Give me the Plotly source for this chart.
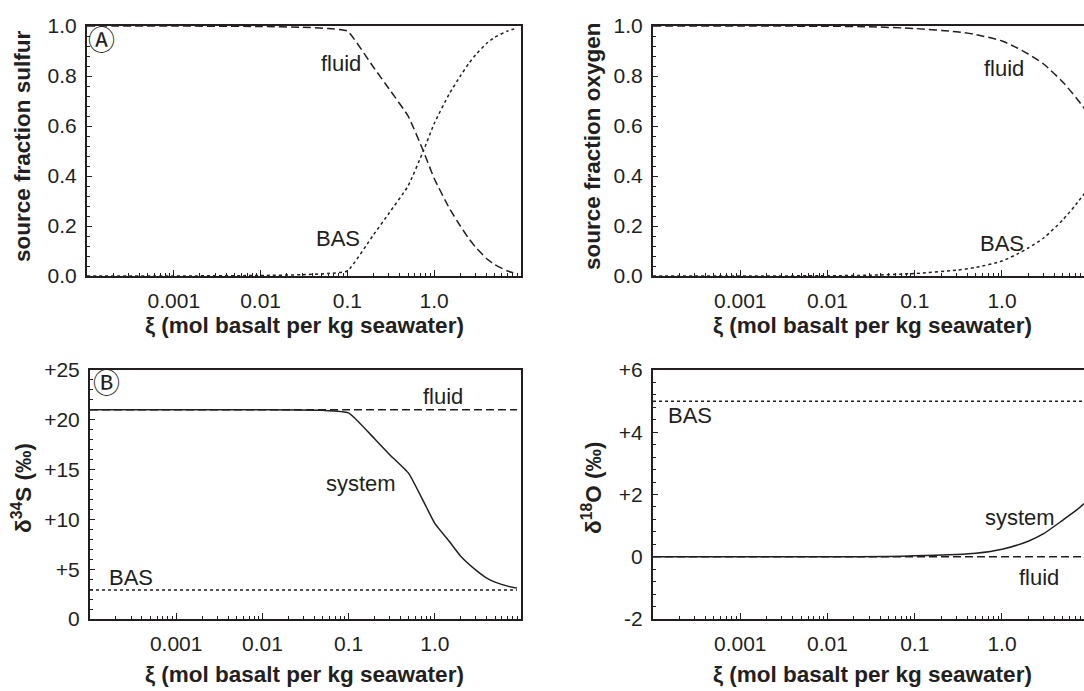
import plotly.graph_objects as go

# ---------------- data ----------------
xi_S = [1e-4, 1e-3, 0.01, 0.03, 0.06, 0.1, 0.2, 0.3, 0.5, 0.75, 1.0, 1.5, 2, 2.5, 3, 4, 5, 7, 9]
frac_S_fluid = [1.0, 1.0, 0.998, 0.995, 0.99, 0.98, 0.835, 0.75, 0.64, 0.50, 0.39, 0.27, 0.20, 0.15, 0.115, 0.07, 0.045, 0.02, 0.008]
frac_S_bas = [0.0, 0.0, 0.002, 0.005, 0.01, 0.02, 0.165, 0.25, 0.36, 0.50, 0.61, 0.73, 0.80, 0.85, 0.885, 0.93, 0.955, 0.98, 0.992]

xi_O = [1e-4, 1e-3, 0.01, 0.03, 0.1, 0.3, 0.5, 1.0, 1.5, 2, 3, 5, 7, 10]
frac_O_fluid = [1.0, 1.0, 0.999, 0.997, 0.99, 0.977, 0.966, 0.94, 0.912, 0.888, 0.848, 0.775, 0.715, 0.645]
frac_O_bas = [0.0, 0.0, 0.001, 0.003, 0.01, 0.023, 0.034, 0.06, 0.088, 0.112, 0.152, 0.225, 0.285, 0.355]

xi_d34 = [1e-4, 1e-3, 0.01, 0.05, 0.1, 0.2, 0.3, 0.5, 0.75, 1.0, 1.5, 2, 3, 4, 5, 7, 9]
d34S_system = [21.0, 21.0, 21.0, 20.95, 20.7, 18.1, 16.5, 14.6, 11.7, 9.6, 7.7, 6.3, 4.9, 4.1, 3.7, 3.3, 3.1]
d34S_fluid = 21.0
d34S_bas = 2.9

xi_d18 = [1e-4, 1e-3, 0.01, 0.05, 0.1, 0.3, 0.5, 1.0, 2, 3, 5, 7, 10]
d18O_system = [0.0, 0.0, 0.0, 0.01, 0.03, 0.07, 0.11, 0.24, 0.5, 0.74, 1.18, 1.48, 1.85]
d18O_fluid = 0.0
d18O_bas = 5.0

frac_ticks = [0, 0.2, 0.4, 0.6, 0.8, 1.0]
frac_ticktext = ["0.0", "0.2", "0.4", "0.6", "0.8", "1.0"]
d34_ticks = [0, 5, 10, 15, 20, 25]
d34_ticktext = ["0", "+5", "+10", "+15", "+20", "+25"]
d18_ticks = [-2, 0, 2, 4, 6]
d18_ticktext = ["-2", "0", "+2", "+4", "+6"]
x_ticks = [0.001, 0.01, 0.1, 1.0]
x_ticktext = ["0.001", "0.01", "0.1", "1.0"]

# ---------------- figure ----------------
W, H = 1084, 691
INK = "#231f20"
FONT = "Liberation Sans, Arial, sans-serif"


def px(x):
    return x / W


def py(y):
    return 1 - y / H


fig = go.Figure()

dash_fluid = "8px,4px"
lw = 1.5

# panel A
fig.add_trace(go.Scatter(x=xi_S, y=frac_S_fluid, mode="lines", line=dict(color=INK, width=lw, dash=dash_fluid, shape="spline", smoothing=0.4), xaxis="x", yaxis="y"))
fig.add_trace(go.Scatter(x=xi_S, y=frac_S_bas, mode="lines", line=dict(color=INK, width=lw, dash="dot", shape="spline", smoothing=0.4), xaxis="x", yaxis="y"))
# oxygen fraction
fig.add_trace(go.Scatter(x=xi_O, y=frac_O_fluid, mode="lines", line=dict(color=INK, width=lw, dash=dash_fluid, shape="spline", smoothing=0.6), xaxis="x2", yaxis="y2"))
fig.add_trace(go.Scatter(x=xi_O, y=frac_O_bas, mode="lines", line=dict(color=INK, width=lw, dash="dot", shape="spline", smoothing=0.6), xaxis="x2", yaxis="y2"))
# panel B
fig.add_trace(go.Scatter(x=[xi_d34[0], xi_d34[-1]], y=[d34S_fluid, d34S_fluid], mode="lines", line=dict(color=INK, width=lw, dash=dash_fluid), xaxis="x3", yaxis="y3"))
fig.add_trace(go.Scatter(x=[xi_d34[0], xi_d34[-1]], y=[d34S_bas, d34S_bas], mode="lines", line=dict(color=INK, width=lw, dash="dot"), xaxis="x3", yaxis="y3"))
fig.add_trace(go.Scatter(x=xi_d34, y=d34S_system, mode="lines", line=dict(color=INK, width=lw, shape="spline", smoothing=0.4), xaxis="x3", yaxis="y3"))
# d18O
fig.add_trace(go.Scatter(x=[xi_d18[0], xi_d18[-1]], y=[d18O_fluid, d18O_fluid], mode="lines", line=dict(color=INK, width=lw, dash=dash_fluid), xaxis="x4", yaxis="y4"))
fig.add_trace(go.Scatter(x=[xi_d18[0], xi_d18[-1]], y=[d18O_bas, d18O_bas], mode="lines", line=dict(color=INK, width=lw, dash="dot"), xaxis="x4", yaxis="y4"))
fig.add_trace(go.Scatter(x=xi_d18, y=d18O_system, mode="lines", line=dict(color=INK, width=lw, shape="spline", smoothing=0.6), xaxis="x4", yaxis="y4"))

minor_x = []
for e in range(-4, 2):
    for m in range(2, 10):
        minor_x.append(m * 10 ** e)

tickfont = dict(family=FONT, size=21, color=INK)


def xax(domain, rng, anchor, mirror=True):
    return dict(type="log", domain=domain, range=rng, anchor=anchor, automargin=False,
                tickmode="array", tickvals=x_ticks, ticktext=x_ticktext,
                ticks="inside", ticklen=6, tickwidth=1.2, tickcolor=INK,
                minor=dict(tickmode="array", tickvals=minor_x, ticks="inside", ticklen=3, tickwidth=1, tickcolor=INK),
                showline=True, linecolor=INK, linewidth=2, mirror=mirror,
                showgrid=False, zeroline=False, tickfont=tickfont, ticklabelstandoff=5)


def yax(domain, rng, anchor, tv, tt, mdt, mirror=True):
    return dict(domain=domain, range=rng, anchor=anchor, automargin=False,
                tickmode="array", tickvals=tv, ticktext=tt,
                ticks="inside", ticklen=5, tickwidth=1.2, tickcolor=INK,
                minor=dict(dtick=mdt, tick0=rng[0], ticks="inside", ticklen=3, tickwidth=1, tickcolor=INK),
                showline=True, linecolor=INK, linewidth=2, mirror=mirror,
                showgrid=False, zeroline=False, tickfont=tickfont, ticklabelstandoff=4)


LX = [px(87), px(521)]
LX2 = [px(90), px(521)]
RX = [px(653), 1.0]
TY = [py(276), py(26)]
BY = [py(619), py(370)]

fig.update_layout(
    template="none",
    width=W, height=H, margin=dict(l=0, r=0, t=0, b=0, pad=0, autoexpand=False),
    paper_bgcolor="white", plot_bgcolor="white", showlegend=False,
    font=dict(family=FONT, color=INK),
    xaxis=xax(LX, [-4, 1], "y"),
    yaxis=yax(TY, [0, 1], "x", frac_ticks, frac_ticktext, 0.04),
    xaxis2=xax(RX, [-4, 0.94], "y2"),
    yaxis2=yax(TY, [0, 1], "x2", frac_ticks, frac_ticktext, 0.04, mirror=False),
    xaxis3=xax(LX2, [-4, 1], "y3"),
    yaxis3=yax(BY, [0, 25], "x3", d34_ticks, d34_ticktext, 1),
    xaxis4=xax(RX, [-4, 0.94], "y4"),
    yaxis4=yax(BY, [-2, 6], "x4", d18_ticks, d18_ticktext, 0.4, mirror=False),
)

ann = []


def label(text, x, y, size=22, bold=False, angle=0, family=FONT):
    ann.append(dict(text=("<b>%s</b>" % text) if bold else text, x=px(x), y=py(y),
                    xref="paper", yref="paper", showarrow=False, textangle=angle,
                    xanchor="center", yanchor="middle",
                    font=dict(family=family, size=size, color=INK)))


# axis titles
TS = 22.5
label("ξ (mol basalt per kg seawater)", 304, 325, size=TS, bold=True)
label("ξ (mol basalt per kg seawater)", 872, 325, size=TS, bold=True)
label("ξ (mol basalt per kg seawater)", 304, 674, size=TS, bold=True)
label("ξ (mol basalt per kg seawater)", 872, 674, size=TS, bold=True)
label("source fraction sulfur", 22, 146, size=TS, bold=True, angle=-90)
label("source fraction oxygen", 592, 146, size=TS, bold=True, angle=-90)
label("δ<sup>34</sup>S (‰)", 22, 488, size=TS, bold=True, angle=-90)
label("δ<sup>18</sup>O (‰)", 592, 488, size=TS, bold=True, angle=-90)

# in-plot labels
label("fluid", 341, 64)
label("BAS", 338, 239)
label("fluid", 1004, 69)
label("BAS", 1002, 244)
label("fluid", 443, 397)
label("system", 361, 483)
label("BAS", 131, 577)
label("BAS", 690, 415)
label("system", 1020, 517)
label("fluid", 1039, 577)

# panel letters
label("Ⓐ", 101, 40, size=27, family="DejaVu Sans, Noto Sans CJK SC")
label("Ⓑ", 106, 383, size=27, family="DejaVu Sans, Noto Sans CJK SC")

fig.update_layout(annotations=ann)

fig.write_html("out.html")
